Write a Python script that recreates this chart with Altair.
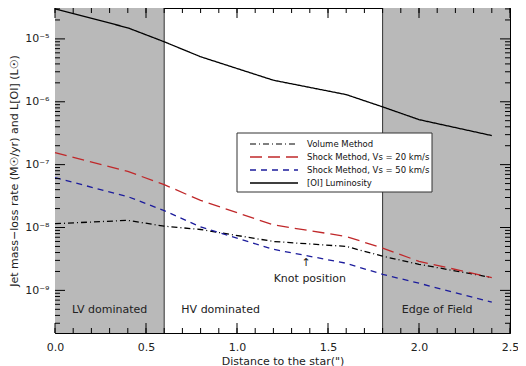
import altair as alt
import pandas as pd

# ---- data ----
dist = [0.0, 0.4, 0.6, 0.8, 1.2, 1.6, 1.8, 2.0, 2.4]
volume = [1.15e-8, 1.3e-8, 1.05e-8, 9.3e-9, 6.0e-9, 5.0e-9, 3.5e-9, 2.6e-9, 1.6e-9]
shock20 = [1.55e-7, 7.8e-8, 4.8e-8, 2.7e-8, 1.1e-8, 7.2e-9, 4.7e-9, 2.9e-9, 1.6e-9]
shock50 = [6.2e-8, 3.1e-8, 1.86e-8, 1.02e-8, 4.5e-9, 2.7e-9, 1.8e-9, 1.3e-9, 6.5e-10]
lum = [3.0e-5, 1.5e-5, 9.0e-6, 5.2e-6, 2.2e-6, 1.3e-6, 8.3e-7, 5.2e-7, 2.9e-7]

series_names = ["Volume Method", "Shock Method, Vs = 20 km/s",
                "Shock Method, Vs = 50 km/s", "[OI] Luminosity"]
series_colors = ["#000000", "#c0282a", "#1c1c9c", "#000000"]
series_dash = [[6, 3, 1, 3], [12, 6], [6, 5], [1, 0]]
series_width = [1.2, 1.5, 1.5, 1.3]

regions_x0 = [0.0, 1.8]
regions_x1 = [0.6, 2.5]
boundaries = [0.6, 1.8]

x_domain = [0.0, 2.5]
y_domain = [2.1e-10, 3.1e-5]
x_major = [0.0, 0.5, 1.0, 1.5, 2.0, 2.5]
x_minor = [round(i * 0.1, 1) for i in range(26)]
y_major = [1e-9, 1e-8, 1e-7, 1e-6, 1e-5]
y_minor = [k * 10.0 ** e for e in range(-10, -4) for k in range(2, 10)
           if y_domain[0] <= k * 10.0 ** e <= y_domain[1]]

annot_text = ["LV dominated", "HV dominated", "Edge of Field", "Knot position"]
annot_x = [0.3, 0.91, 2.1, 1.40]
annot_y = [4.8e-10, 4.8e-10, 4.8e-10, 1.5e-9]
arrow_x = [1.38]
arrow_y = [2.7e-9]

W, H = 455, 325
FONT = "DejaVu Sans"

# ---- tables ----
rows = []
for name, vals in zip(series_names, [volume, shock20, shock50, lum]):
    for d, v in zip(dist, vals):
        rows.append({"dist": d, "val": v, "series": name})
lines_df = pd.DataFrame(rows)
reg_df = pd.DataFrame({"x0": regions_x0, "x1": regions_x1})
bnd_df = pd.DataFrame({"x": boundaries})
ann_df = pd.DataFrame({"t": annot_text, "x": annot_x, "y": annot_y})

xs = alt.Scale(domain=x_domain, nice=False, zero=False)
ys = alt.Scale(type="log", domain=y_domain, nice=False)

sup = "['⁰','¹','²','³','⁴','⁵','⁶','⁷','⁸','⁹','¹⁰']"
x_axis = alt.Axis(values=x_major, format=".1f", ticks=False, grid=False,
                  domainColor="black", labelFont=FONT, labelFontSize=11,
                  labelFlush=False, labelOverlap=False,
                  labelColor="#222", labelPadding=8, title='Distance to the star(")',
                  titleFont=FONT, titleFontSize=11, titleFontWeight="normal",
                  titleColor="#222", titlePadding=3)
y_axis = alt.Axis(values=y_major, ticks=False, grid=False, domainColor="black",
                  labelExpr="'10⁻' + " + sup + "[round(-log(datum.value)/LN10)]",
                  labelFlush=False,
                  labelFont=FONT, labelFontSize=11, labelColor="#222", labelPadding=6,
                  title="Jet mass−loss rate (M☉/yr) and L[OI] (L☉)",
                  titleFont=FONT, titleFontSize=11, titleFontWeight="normal",
                  titleColor="#222", titlePadding=5)

shade = alt.Chart(reg_df).mark_rect(color="#b9b9b9").encode(
    x=alt.X("x0:Q", scale=xs, axis=x_axis), x2="x1:Q",
    y=alt.value(0), y2=alt.value(H))

bnd = alt.Chart(bnd_df).mark_rule(color="#333", strokeWidth=1).encode(
    x=alt.X("x:Q", scale=xs))

lines = alt.Chart(lines_df).mark_line(strokeWidth=1.3).encode(
    x=alt.X("dist:Q", scale=xs),
    y=alt.Y("val:Q", scale=ys, axis=y_axis),
    color=alt.Color("series:N", scale=alt.Scale(domain=series_names, range=series_colors),
                    legend=None),
    strokeDash=alt.StrokeDash("series:N", scale=alt.Scale(domain=series_names, range=series_dash),
                              legend=None),
    strokeWidth=alt.StrokeWidth("series:N",
                                scale=alt.Scale(domain=series_names, range=series_width),
                                legend=None),
    detail="series:N")

ann = alt.Chart(ann_df).mark_text(font=FONT, fontSize=11, color="#222").encode(
    x=alt.X("x:Q", scale=xs), y=alt.Y("y:Q", scale=ys), text="t:N")

arrow_df = pd.DataFrame({"x": arrow_x, "y": arrow_y})
arrow = alt.Chart(arrow_df).mark_text(text="↑", font=FONT, fontSize=11, color="#222").encode(
    x=alt.X("x:Q", scale=xs), y=alt.Y("y:Q", scale=ys))

# ---- manual legend box (inside the plot area) ----
LX0, LX1, LY0, LY1 = 182, 377, 125, 184
leg_layers = [alt.Chart(pd.DataFrame({"a": [0]})).mark_rect(
    fill="white", stroke="#333", strokeWidth=1).encode(
    x=alt.value(LX0), x2=alt.value(LX1), y=alt.value(LY0), y2=alt.value(LY1))]
for i, (name, col, dash, sw) in enumerate(zip(series_names, series_colors, series_dash, series_width)):
    yy = 136 + i * 13
    one = pd.DataFrame({"t": [name]})
    leg_layers.append(alt.Chart(one).mark_rule(color=col, strokeDash=dash, strokeWidth=sw).encode(
        x=alt.value(195), x2=alt.value(243), y=alt.value(yy)))
    leg_layers.append(alt.Chart(one).mark_text(font=FONT, fontSize=8.5, color="#111",
                                               align="left", baseline="middle").encode(
        x=alt.value(252), y=alt.value(yy), text="t:N"))

def xticks(vals, ln):
    df = pd.DataFrame({"v": vals})
    b = alt.Chart(df).mark_rule(color="black").encode(
        x=alt.X("v:Q", scale=xs), y=alt.value(H), y2=alt.value(H - ln))
    t = alt.Chart(df).mark_rule(color="black").encode(
        x=alt.X("v:Q", scale=xs), y=alt.value(0), y2=alt.value(ln))
    return b + t

def yticks(vals, ln):
    df = pd.DataFrame({"v": vals})
    l = alt.Chart(df).mark_rule(color="black").encode(
        y=alt.Y("v:Q", scale=ys), x=alt.value(0), x2=alt.value(ln))
    r = alt.Chart(df).mark_rule(color="black").encode(
        y=alt.Y("v:Q", scale=ys), x=alt.value(W), x2=alt.value(W - ln))
    return l + r

chart = alt.layer(
    shade, bnd, lines, ann, arrow, *leg_layers,
    xticks(x_minor, 5), xticks(x_major, 10),
    yticks(y_minor, 5), yticks(y_major, 10),
).resolve_scale(x="shared", y="shared").properties(
    width=W, height=H,
    autosize=alt.AutoSizeParams(type="none"),
    padding={"left": 47, "top": 0, "right": 8, "bottom": 35},
    background="white",
).configure_view(stroke="black", strokeWidth=1)

chart.save("out.html", embed_options={"renderer": "svg", "actions": False})
